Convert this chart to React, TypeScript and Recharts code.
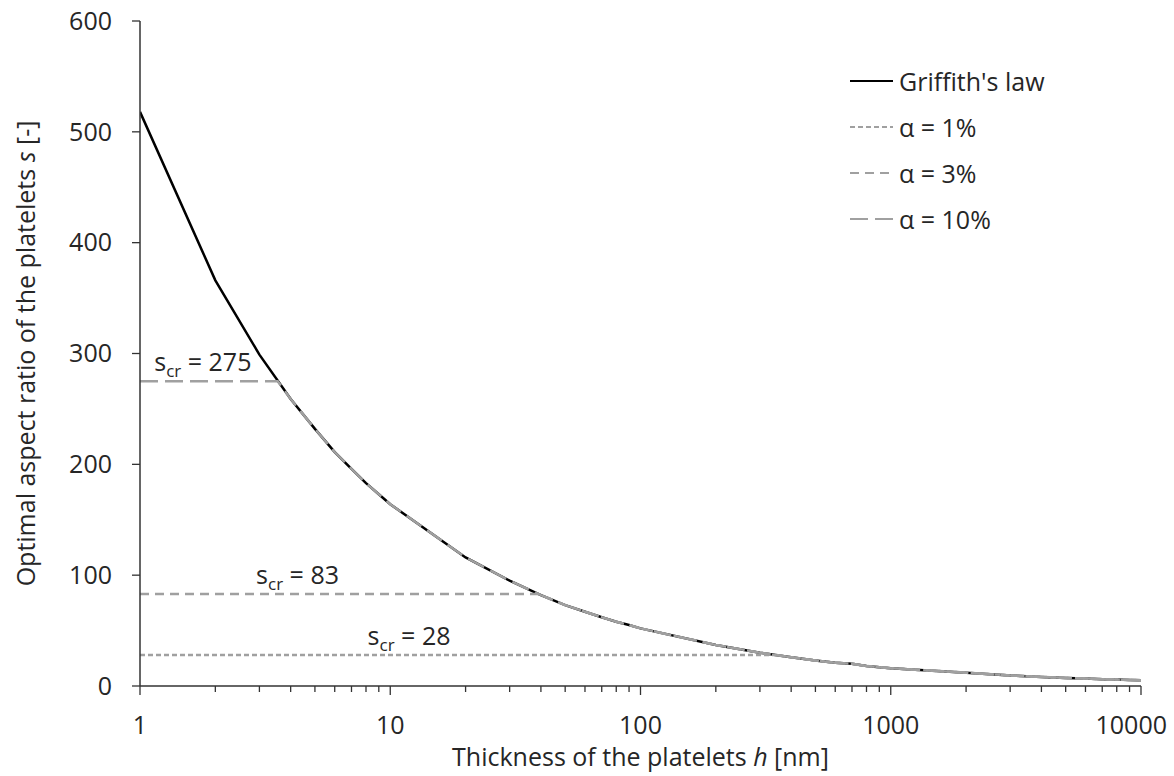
import { LineChart, Line, XAxis, YAxis, ReferenceDot } from 'recharts'

const FONT = '"Open Sans", Lato, sans-serif'
const FS = 25
const INK = '#262626'
const GREY = '#a0a0a0'

// Griffith's law
const griffithH = [1, 2, 3, 4, 5, 6, 7, 8, 9, 10, 20, 30, 40, 50, 60, 70, 80, 90, 100, 200, 300, 400, 500, 600, 700, 800, 900, 1000, 2000, 3000, 4000, 5000, 6000, 7000, 8000, 9000, 10000]
const griffithS = [518, 366, 299, 259, 232, 211, 196, 183, 173, 164, 116, 95, 82, 73, 67, 62, 58, 55, 52, 37, 30, 26, 23, 21, 20, 18, 17, 16, 12, 9.5, 8.2, 7.3, 6.7, 6.2, 5.8, 5.5, 5.2]

// alpha = 1 %: flat at s_cr = 28 then joins the curve
const alpha1H = [1, 340, 400, 500, 600, 700, 800, 900, 1000, 2000, 3000, 4000, 5000, 6000, 7000, 8000, 9000, 10000]
const alpha1S = [28, 28, 26, 23, 21, 20, 18, 17, 16, 12, 9.5, 8.2, 7.3, 6.7, 6.2, 5.8, 5.5, 5.2]

// alpha = 3 %: flat at s_cr = 83
const alpha3H = [1, 39, 40, 50, 60, 70, 80, 90, 100, 200, 300, 400, 500, 600, 700, 800, 900, 1000, 2000, 3000, 4000, 5000, 6000, 7000, 8000, 9000, 10000]
const alpha3S = [83, 83, 82, 73, 67, 62, 58, 55, 52, 37, 30, 26, 23, 21, 20, 18, 17, 16, 12, 9.5, 8.2, 7.3, 6.7, 6.2, 5.8, 5.5, 5.2]

// alpha = 10 %: flat at s_cr = 275
const alpha10H = [1, 3.55, 4, 5, 6, 7, 8, 9, 10, 20, 30, 40, 50, 60, 70, 80, 90, 100, 200, 300, 400, 500, 600, 700, 800, 900, 1000, 2000, 3000, 4000, 5000, 6000, 7000, 8000, 9000, 10000]
const alpha10S = [275, 275, 259, 232, 211, 196, 183, 173, 164, 116, 95, 82, 73, 67, 62, 58, 55, 52, 37, 30, 26, 23, 21, 20, 18, 17, 16, 12, 9.5, 8.2, 7.3, 6.7, 6.2, 5.8, 5.5, 5.2]

const seriesNames = ["Griffith's law", 'α = 1%', 'α = 3%', 'α = 10%']

// s_cr annotations
const scrValues = [275, 83, 28]
const scrLabelH = [1.8, 4.3, 12]

const xTicks = [1, 2, 3, 4, 5, 6, 7, 8, 9, 10, 20, 30, 40, 50, 60, 70, 80, 90, 100, 200, 300, 400, 500, 600, 700, 800, 900, 1000, 2000, 3000, 4000, 5000, 6000, 7000, 8000, 9000, 10000]
const xTickLabels = [1, 10, 100, 1000, 10000]
const yTicks = [0, 100, 200, 300, 400, 500, 600]

const toPoints = (h: number[], s: number[]) => h.map((v, i) => ({ h: v, s: s[i] }))

const lineStyles = [
  { stroke: '#000', dash: undefined as string | undefined },
  { stroke: GREY, dash: '5 3' },
  { stroke: GREY, dash: '9 6' },
  { stroke: GREY, dash: '18 7' },
]

const seriesData = [
  toPoints(griffithH, griffithS),
  toPoints(alpha1H, alpha1S),
  toPoints(alpha3H, alpha3S),
  toPoints(alpha10H, alpha10S),
]

function XTick({ x, y, payload }: any) {
  const major = xTickLabels.includes(payload.value)
  // last label is pulled inside the picture, like the original
  const last = payload.value === xTickLabels[xTickLabels.length - 1]
  return (
    <g>
      <line x1={x} x2={x} y1={y} y2={y + (major ? 9 : 6)} stroke="#333" strokeWidth={1.3} />
      {major && (
        <text
          x={last ? x + 26 : x}
          y={y + 48}
          textAnchor={last ? 'end' : 'middle'}
          fill={INK}
          fontSize={FS}
          fontFamily={FONT}
        >
          {payload.value}
        </text>
      )}
    </g>
  )
}

function YTick({ x, y, payload }: any) {
  return (
    <g>
      <line x1={x - 8} x2={x} y1={y} y2={y} stroke="#333" strokeWidth={1.3} />
      <text x={x - 28} y={y} dy="0.35em" textAnchor="end" fill={INK} fontSize={FS} fontFamily={FONT}>
        {payload.value}
      </text>
    </g>
  )
}

function XTitle({ viewBox }: any) {
  const { x, y, width } = viewBox
  return (
    <text x={x + width / 2} y={y + 80} textAnchor="middle" fill={INK} fontSize={FS} fontFamily={FONT}>
      Thickness of the platelets <tspan fontStyle="italic">h</tspan> [nm]
    </text>
  )
}

function YTitle({ viewBox }: any) {
  const { y, height } = viewBox
  const cx = 35
  const cy = y + height / 2
  return (
    <text
      x={cx}
      y={cy}
      transform={`rotate(-90 ${cx} ${cy})`}
      textAnchor="middle"
      fill={INK}
      fontSize={FS}
      fontFamily={FONT}
    >
      Optimal aspect ratio of the platelets <tspan fontStyle="italic">s</tspan> [-]
    </text>
  )
}

const scrLabel = (value: number) => ({ viewBox }: any) => (
  <text x={viewBox.x} y={viewBox.y - 9} textAnchor="middle" fill={INK} fontSize={FS} fontFamily={FONT}>
    s
    <tspan dy={6} fontSize={17}>cr</tspan>
    <tspan dy={-6}> = {value}</tspan>
  </text>
)

function LegendBox() {
  return (
    <div style={{ position: 'absolute', left: 848, top: 58, fontFamily: FONT, fontSize: FS, color: INK }}>
      {seriesNames.map((name, i) => (
        <div key={name} style={{ display: 'flex', alignItems: 'center', height: 46 }}>
          <svg width={46} height={10} style={{ marginRight: 5 }}>
            <line
              x1={2}
              x2={45}
              y1={5}
              y2={5}
              stroke={lineStyles[i].stroke}
              strokeWidth={2.2}
              strokeDasharray={lineStyles[i].dash}
            />
          </svg>
          <span>{name}</span>
        </div>
      ))}
    </div>
  )
}

export default function App() {
  return (
    <div style={{ position: 'absolute', left: 0, top: 0, width: 1174, height: 776, background: '#fff' }}>
      <LineChart width={1174} height={776} margin={{ top: 21, right: 33, bottom: 0, left: 0 }}>
        <XAxis
          dataKey="h"
          type="number"
          scale="log"
          domain={[1, 10000]}
          ticks={xTicks}
          interval={0}
          allowDataOverflow
          height={90}
          tickSize={0}
          tickMargin={0}
          tickLine={false}
          tick={<XTick />}
          stroke="#333"
          strokeWidth={1.5}
          label={{ content: XTitle } as any}
        />
        <YAxis
          dataKey="s"
          type="number"
          domain={[0, 600]}
          ticks={yTicks}
          interval={0}
          width={140}
          tickSize={0}
          tickMargin={0}
          tickLine={false}
          tick={<YTick />}
          stroke="#333"
          strokeWidth={1.5}
          label={{ content: YTitle } as any}
        />
        {seriesData.map((data, i) => (
          <Line
            key={seriesNames[i]}
            data={data}
            dataKey="s"
            name={seriesNames[i]}
            type="linear"
            stroke={lineStyles[i].stroke}
            strokeWidth={2.5}
            strokeDasharray={lineStyles[i].dash}
            dot={false}
            activeDot={false}
            isAnimationActive={false}
          />
        ))}
        {scrValues.map((v, i) => (
          <ReferenceDot
            key={v}
            x={scrLabelH[i]}
            y={v}
            r={1}
            fill="none"
            stroke="none"
            label={{ content: scrLabel(v) } as any}
          />
        ))}
      </LineChart>
      <LegendBox />
    </div>
  )
}
